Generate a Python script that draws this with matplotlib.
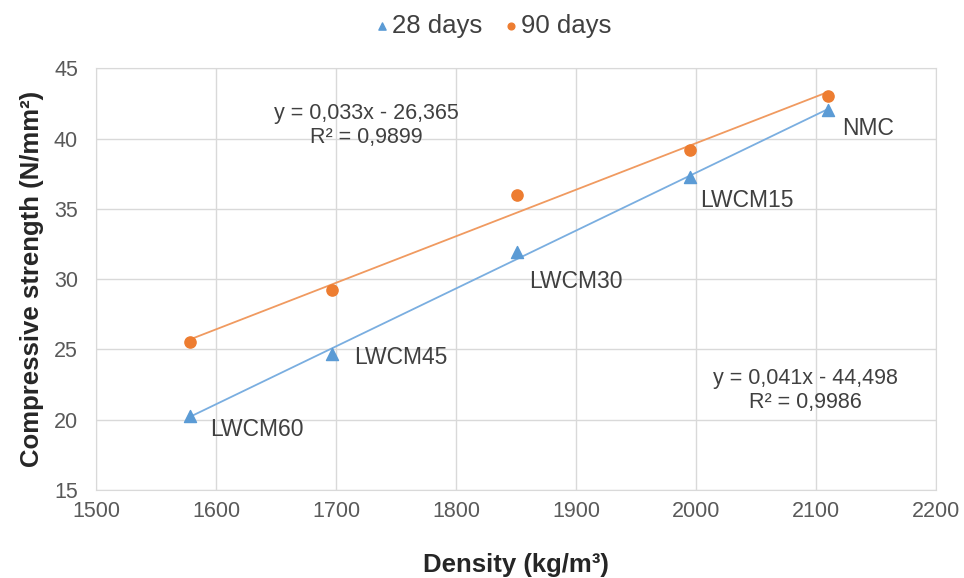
import matplotlib.pyplot as plt
import numpy as np

plt.rcParams["font.family"] = ["Liberation Sans", "DejaVu Sans"]

density = [1578, 1697, 1851, 1995, 2110]
strength_28 = [20.3, 24.7, 31.9, 37.3, 42.0]
strength_90 = [25.5, 29.2, 36.0, 39.2, 43.0]
mixes = ["LWCM60", "LWCM45", "LWCM30", "LWCM15", "NMC"]
label_pos = [(1595, 19.3), (1715, 24.4), (1861, 29.8), (2003, 35.6), (2122, 40.7)]

eq_28 = "y = 0,041x - 44,498\nR² = 0,9986"
eq_90 = "y = 0,033x - 26,365\nR² = 0,9899"

blue = "#5b9bd5"
orange = "#ed7d31"
text_col = "#404040"

fig = plt.figure(figsize=(9.64, 5.78), dpi=100)
ax = fig.add_axes([0.0996, 0.152, 0.8714, 0.73])

x = np.array(density)
xs = np.array([x.min(), x.max()])
for ys, col in [(strength_28, "#7aaee0"), (strength_90, "#f09a60")]:
    k, b = np.polyfit(x, ys, 1)
    ax.plot(xs, k * xs + b, color=col, lw=1.3, zorder=2)

ax.scatter(density, strength_28, marker="^", s=75, color=blue, zorder=3, label="28 days")
ax.scatter(density, strength_90, marker="o", s=65, color=orange, zorder=3, label="90 days")

for name, (tx, ty) in zip(mixes, label_pos):
    ax.text(tx, ty, name, fontsize=16.5, color=text_col, va="center", ha="left")

ax.text(1725, 40.9, eq_90, fontsize=15.5, color=text_col, ha="center", va="center",
        linespacing=1.2)
ax.text(2091, 22.1, eq_28, fontsize=15.5, color=text_col, ha="center", va="center",
        linespacing=1.2)

ax.set_xlim(1500, 2200)
ax.set_ylim(15, 45)
ax.set_xticks(np.arange(1500, 2201, 100))
ax.set_yticks(np.arange(15, 46, 5))
ax.grid(True, color="#d9d9d9", lw=1)
ax.set_axisbelow(True)
for s in ax.spines.values():
    s.set_color("#d9d9d9")
ax.tick_params(length=0, labelsize=15.5, colors="#595959")
ax.tick_params(axis="x", pad=8)
ax.tick_params(axis="y", pad=13)

ax.set_xlabel("Density (kg/m³)", fontsize=18.5, fontweight="bold", color="#262626", labelpad=22)
ax.set_ylabel("Compressive strength (N/mm²)", fontsize=18.5, fontweight="bold", color="#262626",
              labelpad=7)

ax.legend(loc="lower center", bbox_to_anchor=(0.471, 1.035), ncol=2, frameon=False,
          fontsize=18.5, handlelength=0.8, handletextpad=0.0, columnspacing=0.7,
          markerscale=0.6, labelcolor="#404040", borderpad=0.1)

fig.savefig("out.png", dpi=100)
